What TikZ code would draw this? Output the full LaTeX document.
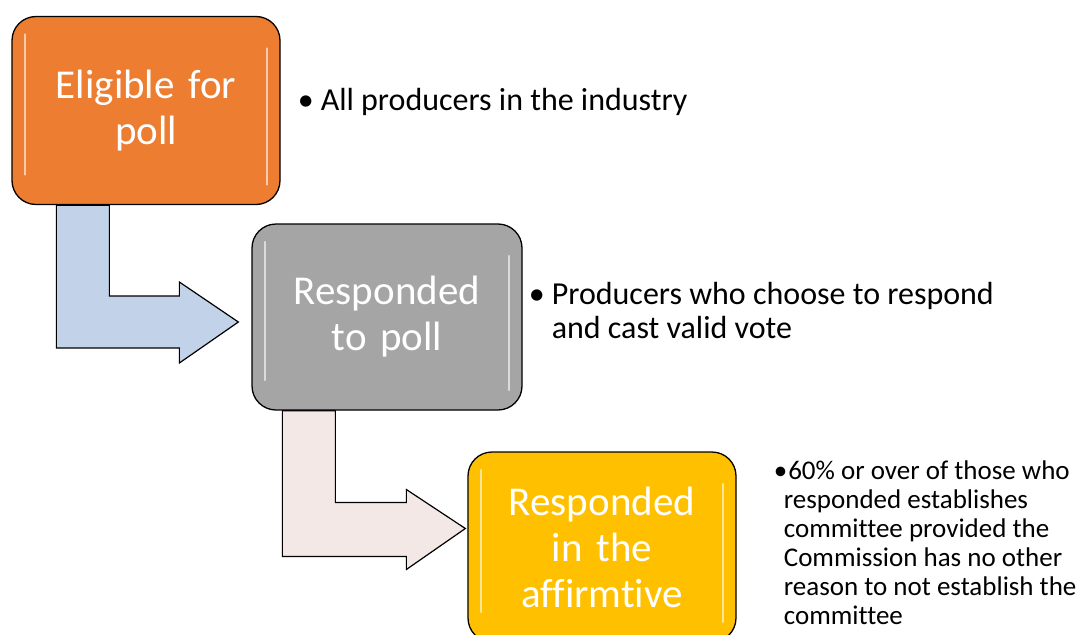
\documentclass[tikz,border=0pt]{standalone}
\usepackage{fontspec}
\setmainfont{Carlito}[Ligatures=NoCommon]
\usetikzlibrary{positioning,calc,backgrounds}
\definecolor{stageorange}{HTML}{ED7D31}
\definecolor{stagegray}{HTML}{A5A5A5}
\definecolor{stageyellow}{HTML}{FFC000}
\definecolor{flowblue}{HTML}{C2D3E9}
\definecolor{flowpink}{HTML}{F4E8E6}
\tikzset{
  stage/.style={draw=black, line width=1.3pt, rounded corners=24pt,
    minimum width=268pt, minimum height=188pt, text width=250pt,
    align=center, text=white, font=\fontsize{41}{46}\selectfont,
    path picture={
      \draw[white, opacity=.6, line width=2.5pt, line cap=round]
        ([xshift=13pt,yshift=-18pt]path picture bounding box.north west) --
        ([xshift=13pt,yshift=30pt]path picture bounding box.south west);
      \draw[white, opacity=.6, line width=2.5pt, line cap=round]
        ([xshift=-13pt,yshift=-32pt]path picture bounding box.north east) --
        ([xshift=-13pt,yshift=20pt]path picture bounding box.south east);
    }},
  flow/.style={draw=black, line width=1.2pt, line join=miter},
  note/.style={inner sep=0pt, anchor=west, font=\fontsize{32}{34}\selectfont},
  smallnote/.style={inner sep=0pt, anchor=west, font=\fontsize{27}{29}\selectfont}
}

\begin{document}
\begin{tikzpicture}[x=1pt,y=-1pt]
        \useasboundingbox (0,0) rectangle (1078,634);
        %stages
        \node[stage, fill=stageorange] (b1) at (146,110.5) {Eligible for\\ poll};
        \node[stage, fill=stagegray, minimum width=270pt, minimum height=186pt] (b2) at (387,317) {Responded\\ to poll};
        \node[stage, fill=stageyellow, minimum height=190pt] (b3) at (602,547) {Responded\\ in the\\ affirmtive};
        %bent arrows between the stages
        \begin{scope}[on background layer]
        \draw[flow, fill=flowblue] let \p1=(b1.south west), \p2=(b2.west) in
            (\x1+45pt,\y1) -- (\x1+98pt,\y1) -- (\x1+98pt,\y2+21pt) -- (\x2-72pt,\y2+21pt)
            -- (\x2-72pt,\y2+35pt) -- (\x2-13pt,\y2-5pt) -- (\x2-72pt,\y2-46pt)
            -- (\x2-72pt,\y2-31pt) -- (\x1+45pt,\y2-31pt) -- cycle;
        \draw[flow, fill=flowpink] let \p1=(b2.south west), \p2=(b3.west) in
            (\x1+31pt,\y1) -- (\x1+84pt,\y1) -- (\x1+84pt,\y2+44.5pt) -- (\x2-61pt,\y2+44.5pt)
            -- (\x2-61pt,\y2+57.5pt) -- (\x2-2pt,\y2+18.5pt) -- (\x2-61pt,\y2-22.5pt)
            -- (\x2-61pt,\y2-9.5pt) -- (\x1+31pt,\y2-9.5pt) -- cycle;
        \end{scope}
        %notes
        \node[note, right=17pt of b1, yshift=7pt] (t1) {\begin{tabular}{@{}l@{\hspace{7pt}}l@{}}
            \textbullet & All producers in the industry\end{tabular}};
        \node[note, right=6pt of b2, yshift=2.5pt] (t2) {\begin{tabular}{@{}l@{\hspace{7pt}}l@{}}
            \textbullet & Producers who choose to respond\\ & and cast valid vote\end{tabular}};
        \node[smallnote, right=37pt of b3, yshift=1pt] (t3) {\begin{tabular}{@{}l@{\hspace{1pt}}l@{}}
            \textbullet & 60\% or over of those who\\
            \multicolumn{2}{@{\hspace{10pt}}l@{}}{responded establishes}\\
            \multicolumn{2}{@{\hspace{10pt}}l@{}}{committee provided the}\\
            \multicolumn{2}{@{\hspace{10pt}}l@{}}{Commission has no other}\\
            \multicolumn{2}{@{\hspace{10pt}}l@{}}{reason to not establish the}\\
            \multicolumn{2}{@{\hspace{10pt}}l@{}}{committee}\end{tabular}};
\end{tikzpicture}
\end{document}
